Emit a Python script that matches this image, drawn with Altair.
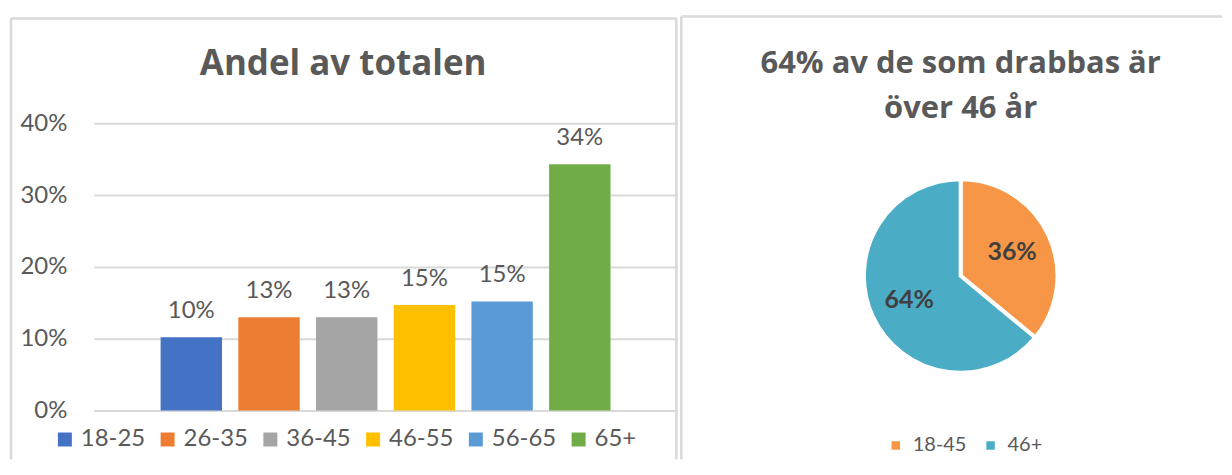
import altair as alt
import pandas as pd

# ---------- data ----------
age_groups = ["18-25", "26-35", "36-45", "46-55", "56-65", "65+"]
shares = [10.2, 13.0, 13.0, 14.7, 15.2, 34.3]
share_labels = ["10%", "13%", "13%", "15%", "15%", "34%"]
bar_colors = ["#4472C4", "#ED7D31", "#A5A5A5", "#FFC000", "#5B9BD5", "#70AD47"]
y_ticks = [0, 10, 20, 30, 40]
bar_title = "Andel av totalen"

pie_groups = ["18-45", "46+"]
pie_shares = [36, 64]
pie_labels = ["36%", "64%"]
pie_colors = ["#F79646", "#4BACC6"]
pie_title = ["64% av de som drabbas är", "över 46 år"]

FONT = "Lato"
TITLE_FONT = "Open Sans"
GRAY = "#595959"
BORDER = "#D9D9D9"

bar_df = pd.DataFrame({"group": age_groups, "share": shares, "label": share_labels})
pie_df = pd.DataFrame({"segment": pie_groups, "share": pie_shares,
                       "label": pie_labels, "order": [0, 1]})
one = pd.DataFrame({"k": [0]})

# ---------- left panel: bar chart ----------
x_enc = alt.X("group:N", sort=age_groups, axis=None,
              scale=alt.Scale(paddingInner=0.21, paddingOuter=0.86))
y_scale = alt.Scale(domain=[0, 40], nice=False)

bars = alt.Chart(bar_df).mark_bar().encode(
    x=x_enc,
    y=alt.Y("share:Q", scale=y_scale,
            axis=alt.Axis(values=y_ticks, labelExpr="datum.value + '%'", title=None,
                          domain=False, ticks=False, grid=True, gridColor=BORDER,
                          gridWidth=2, labelFont=FONT, labelFontSize=24,
                          labelColor=GRAY, labelPadding=27)),
    color=alt.Color("group:N", sort=age_groups,
                    scale=alt.Scale(domain=age_groups, range=bar_colors),
                    legend=alt.Legend(title=None, orient="none", legendX=-41, legendY=305,
                                      direction="horizontal", symbolType="square",
                                      symbolSize=196, symbolStrokeWidth=0,
                                      labelFont=FONT, labelFontSize=24, labelColor=GRAY,
                                      labelOffset=4, columnPadding=10)),
)

bar_text = alt.Chart(bar_df).mark_text(
    baseline="middle", dy=-26, font=FONT, fontSize=24, color=GRAY
).encode(x=x_enc, y=alt.Y("share:Q", scale=y_scale), text="label:N")

left_title = alt.Chart(one).mark_text(
    font=TITLE_FONT, fontSize=35, fontWeight="bold", color=GRAY, baseline="alphabetic",
    align="center"
).encode(x=alt.value(250), y=alt.value(-48), text=alt.value(bar_title))

lb_top = alt.Chart(one).mark_rule(color=BORDER, strokeWidth=2.5).encode(
    x=alt.value(-83), x2=alt.value(584), y=alt.value(-105))
lb_left = alt.Chart(one).mark_rule(color=BORDER, strokeWidth=2.5).encode(
    x=alt.value(-83), y=alt.value(-105), y2=alt.value(337))
lb_right = alt.Chart(one).mark_rule(color=BORDER, strokeWidth=2.5).encode(
    x=alt.value(584), y=alt.value(-105), y2=alt.value(337))

left = alt.layer(lb_top, lb_left, lb_right, bars, bar_text, left_title).properties(
    width=585, height=288)

# ---------- right panel: pie chart ----------
pie_base = alt.Chart(pie_df).encode(
    theta=alt.Theta("share:Q", stack=True),
    order=alt.Order("order:Q"),
)
arcs = pie_base.mark_arc(outerRadius=97, stroke="white", strokeWidth=4).encode(
    color=alt.Color("segment:N", sort=pie_groups,
                    scale=alt.Scale(domain=pie_groups, range=pie_colors),
                    legend=alt.Legend(title=None, orient="none", legendX=187, legendY=313,
                                      direction="horizontal", symbolType="square",
                                      symbolSize=72, symbolStrokeWidth=0,
                                      labelFont=FONT, labelFontSize=20, labelColor=GRAY,
                                      labelOffset=7, columnPadding=14)),
)
pie_text = pie_base.mark_text(radius=57, font=FONT, fontSize=25, fontWeight="bold",
                              color="#404040").encode(text="label:N")

right_title = alt.Chart(one).mark_text(
    font=TITLE_FONT, fontSize=31, fontWeight="bold", color=GRAY, baseline="alphabetic",
    align="center", lineHeight=45
).encode(x=alt.value(262), y=alt.value(-50), text=alt.value(pie_title))

rb_top = alt.Chart(one).mark_rule(color=BORDER, strokeWidth=2.5).encode(
    x=alt.value(-18), x2=alt.value(524), y=alt.value(-107))
rb_left = alt.Chart(one).mark_rule(color=BORDER, strokeWidth=2.5).encode(
    x=alt.value(-18), y=alt.value(-107), y2=alt.value(337))

right = alt.layer(rb_top, rb_left, arcs, pie_text, right_title).properties(
    width=524, height=306)

chart = alt.hconcat(left, right, spacing=22, bounds="flush").resolve_scale(
    color="independent"
).properties(
    padding={"left": 1, "top": 6, "right": 0, "bottom": 0}
).configure_view(strokeWidth=0)

chart.save("out.html", embed_options={"renderer": "svg", "actions": False})
